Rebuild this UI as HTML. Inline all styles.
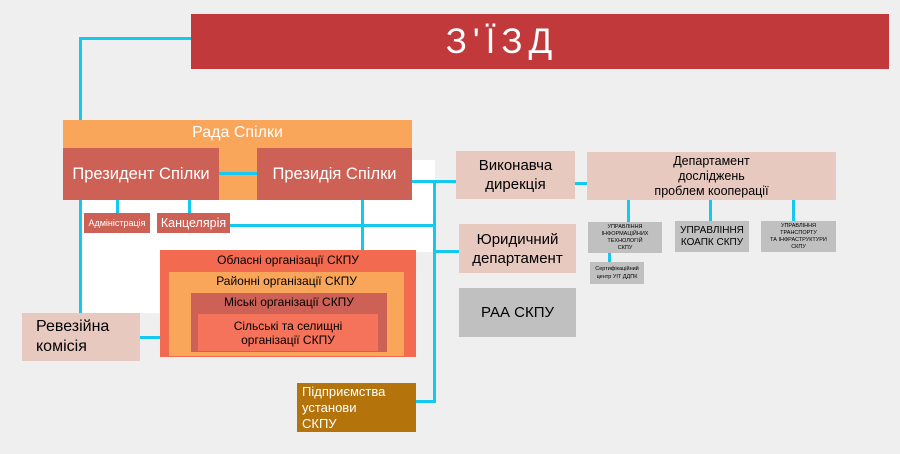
<!DOCTYPE html><html><head><meta charset="utf-8"><style>
body{margin:0;width:900px;height:454px;background:#efefef;position:relative;overflow:hidden;font-family:"Liberation Sans",sans-serif}
div{position:absolute;box-sizing:border-box}
.l{background:#14c8ef}
.t{display:flex;align-items:center;justify-content:center;text-align:center}
</style></head><body>
<div style="left:80px;top:160px;width:355px;height:92px;background:#fff"></div>
<div style="left:80px;top:250px;width:80px;height:63px;background:#fff"></div>
<div class="l" style="left:79px;top:37px;width:113px;height:3px"></div>
<div class="l" style="left:79px;top:37px;width:3px;height:277px"></div>
<div class="t" style="left:191px;top:14px;width:698px;height:55px;background:#c2393b;color:#fff;font-size:35px;letter-spacing:6px;padding-right:76px">З'ЇЗД</div>
<div class="t" style="left:63px;top:120px;width:349px;height:80px;background:#f9a65a;color:#fff;font-size:16px;align-items:flex-start;padding-top:4px">Рада Спілки</div>
<div class="t" style="left:63px;top:148px;width:156px;height:52px;background:#cd6155;color:#fff;font-size:16.5px">Президент Спілки</div>
<div class="t" style="left:257px;top:148px;width:155px;height:52px;background:#cd6155;color:#fff;font-size:16.5px">Президія Спілки</div>
<div class="l" style="left:219px;top:172px;width:38px;height:3px"></div>
<div class="l" style="left:116px;top:200px;width:3px;height:13px"></div>
<div class="l" style="left:188px;top:200px;width:3px;height:13px"></div>
<div class="t" style="left:84px;top:213px;width:66px;height:20px;background:#cd6155;color:#fff;font-size:9px">Адміністрація</div>
<div class="t" style="left:157px;top:213px;width:73px;height:20px;background:#cd6155;color:#fff;font-size:12.5px">Канцелярія</div>
<div class="l" style="left:230px;top:224px;width:205px;height:3px"></div>
<div class="l" style="left:412px;top:180px;width:44px;height:3px"></div>
<div class="l" style="left:433px;top:180px;width:3px;height:223px"></div>
<div class="l" style="left:433px;top:250px;width:26px;height:3px"></div>
<div class="l" style="left:416px;top:400px;width:20px;height:3px"></div>
<div class="l" style="left:361px;top:200px;width:3px;height:50px"></div>
<div class="t" style="left:160px;top:250px;width:256px;height:107px;background:#f26b50;font-size:12px;align-items:flex-start;padding-top:3px">Обласні організації СКПУ</div>
<div class="t" style="left:169px;top:272px;width:235px;height:84px;background:#f9a65a;font-size:12px;align-items:flex-start;padding-top:2px">Районні організації СКПУ</div>
<div class="t" style="left:191px;top:293px;width:196px;height:59px;background:#cd6155;font-size:12px;align-items:flex-start;padding-top:2px">Міські організації СКПУ</div>
<div class="t" style="left:198px;top:314px;width:180px;height:37px;background:#f4735a;font-size:12px;line-height:14px">Сільські та селищні<br>організації СКПУ</div>
<div class="l" style="left:140px;top:336px;width:20px;height:3px"></div>
<div style="left:22px;top:313px;width:118px;height:48px;background:#e8c9bf;font-size:16px;padding:4px 0 0 14px;line-height:20px">Ревезійна<br>комісія</div>
<div style="left:297px;top:383px;width:119px;height:49px;background:#b5740b;color:#fff;font-size:13px;padding:1px 0 0 5px;line-height:16px">Підприємства<br>установи<br>СКПУ</div>
<div class="t" style="left:456px;top:151px;width:119px;height:48px;background:#e8c9bf;font-size:15px;line-height:19px">Виконавча<br>дирекція</div>
<div class="l" style="left:575px;top:182px;width:12px;height:3px"></div>
<div class="t" style="left:587px;top:152px;width:249px;height:48px;background:#e8c9bf;font-size:12.5px;line-height:15px">Департамент<br>досліджень<br>проблем кооперації</div>
<div class="t" style="left:459px;top:224px;width:117px;height:49px;background:#e8c9bf;font-size:15px;line-height:19px">Юридичний<br>департамент</div>
<div class="t" style="left:459px;top:288px;width:117px;height:49px;background:#c0c0c0;font-size:15px">РАА СКПУ</div>
<div class="l" style="left:627px;top:200px;width:3px;height:22px"></div>
<div class="l" style="left:709px;top:200px;width:3px;height:21px"></div>
<div class="l" style="left:792px;top:200px;width:3px;height:21px"></div>
<div class="l" style="left:608px;top:253px;width:3px;height:9px"></div>
<div class="t" style="left:588px;top:222px;width:74px;height:31px;background:#c0c0c0;font-size:5.5px;line-height:7px">УПРАВЛІННЯ<br>ІНФОРМАЦІЙНИХ<br>ТЕХНОЛОГІЙ<br>СКПУ</div>
<div class="t" style="left:675px;top:221px;width:74px;height:31px;background:#c0c0c0;font-size:10px;line-height:12px">УПРАВЛІННЯ<br>КОАПК СКПУ</div>
<div class="t" style="left:761px;top:221px;width:75px;height:31px;background:#c0c0c0;font-size:5.5px;line-height:7px">УПРАВЛІННЯ<br>ТРАНСПОРТУ<br>ТА ІНФРАСТРУКТУРИ<br>СКПУ</div>
<div class="t" style="left:590px;top:262px;width:54px;height:22px;background:#c0c0c0;font-size:5.5px;line-height:8px">Сертифікаційний<br>центр УІТ ДДПК</div>
</body></html>
